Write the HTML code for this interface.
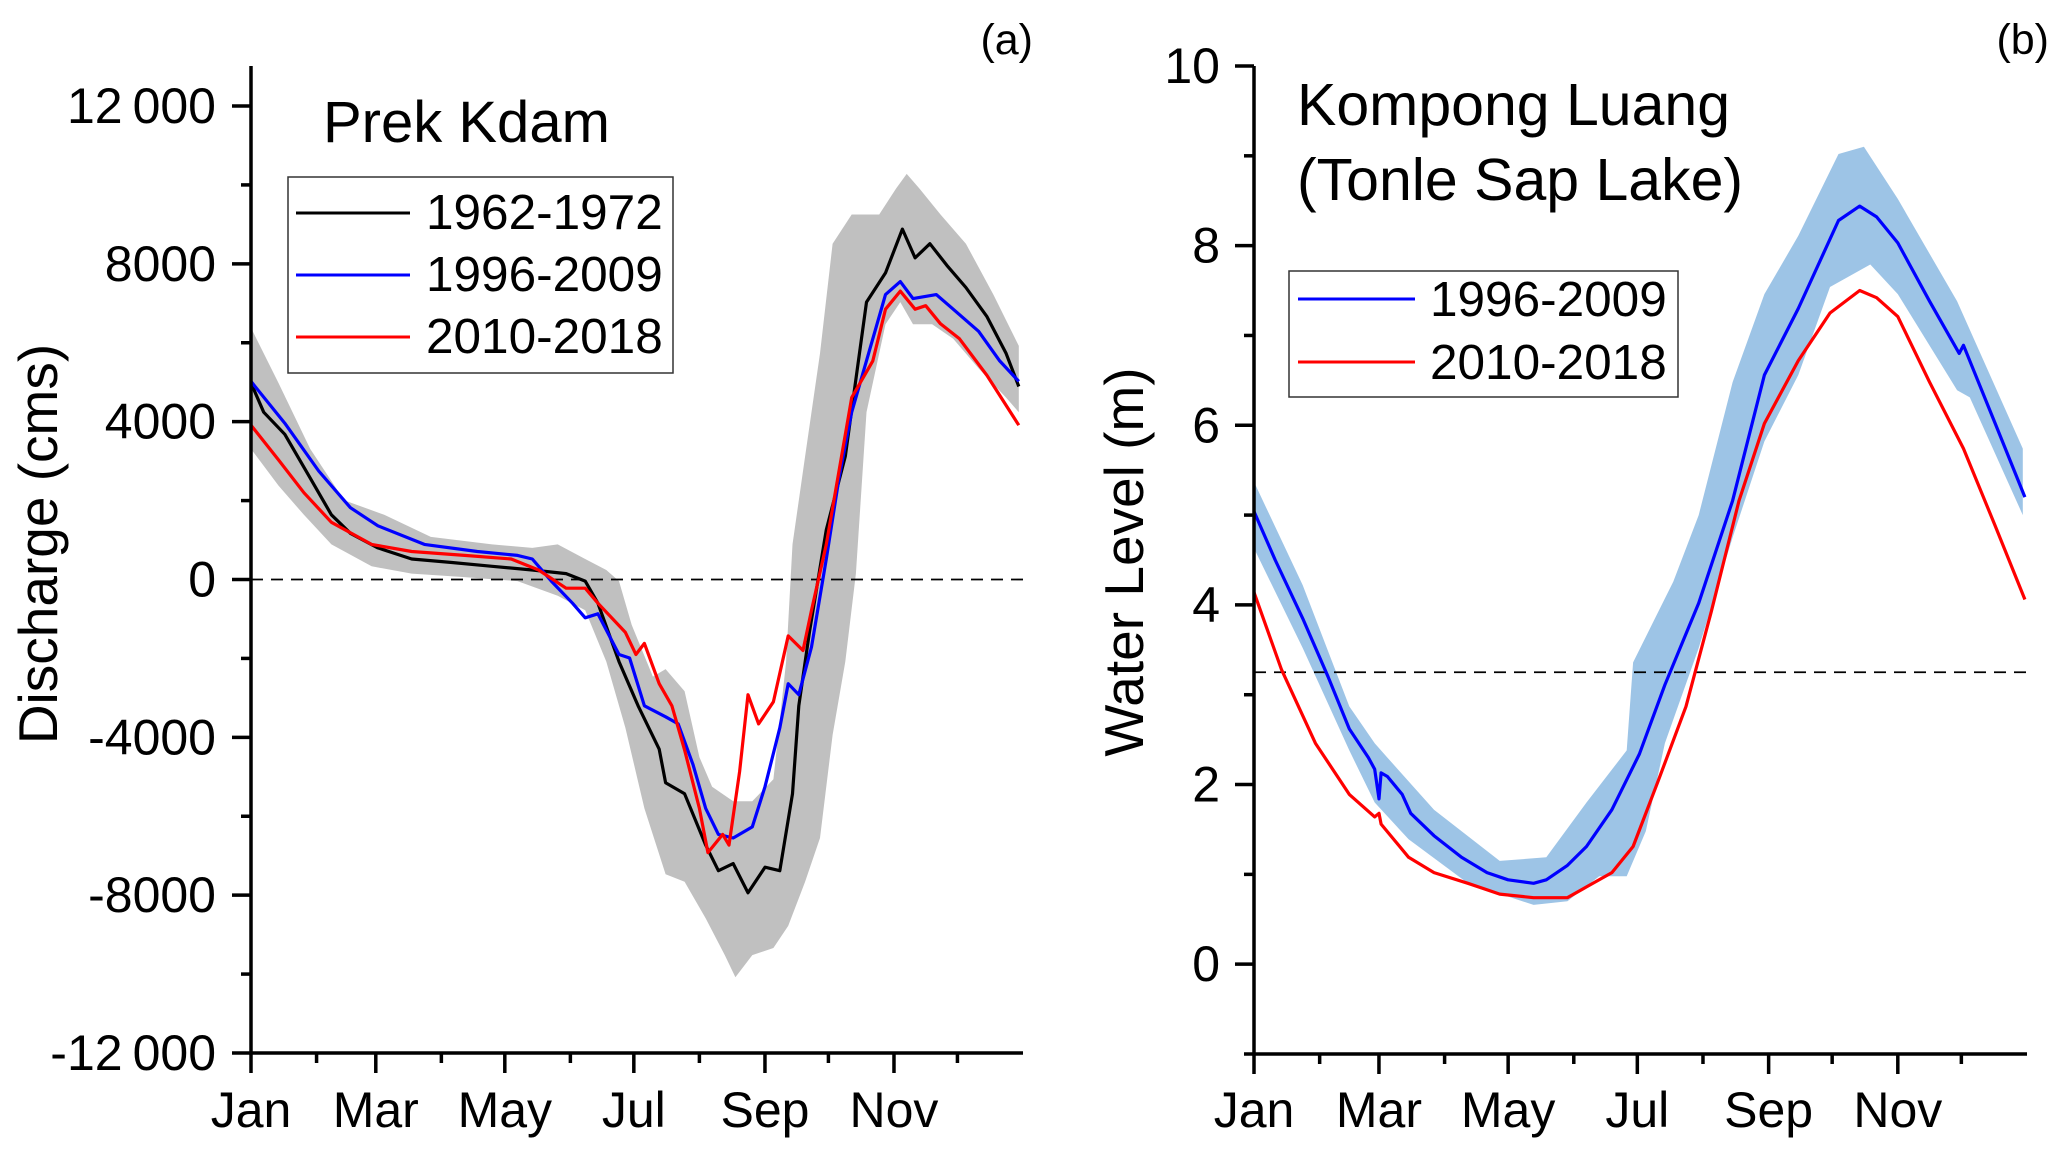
<!DOCTYPE html>
<html><head><meta charset="utf-8"><style>
html,body{margin:0;padding:0;background:#fff;}
svg{display:block;font-family:"Liberation Sans",Arial,sans-serif;}
</style></head><body>
<svg id="fig" width="2067" height="1154" viewBox="0 0 2067 1154" xmlns="http://www.w3.org/2000/svg">
<rect x="0" y="0" width="2067" height="1154" fill="#fff"/>
<g id="pa"></g>
<g id="pb"></g>
</svg>
<script>
// ---------- Panel (a) data: day-of-year and discharge (cms) ----------
const aBlackDays=[0,6,16,28,38,47,60,76,95,114,133,149,158,164,174,183,193,196,205,215,221,228,235,243,250,256,259,264,272,281,291,300,308,314,321,329,338,348,357,363];
const aBlackVals=[4980,4240,3680,2570,1640,1170,800,520,430,335,240,150,-40,-600,-2080,-3200,-4300,-5150,-5430,-6730,-7380,-7200,-7940,-7290,-7380,-5430,-3200,-1340,1260,3120,7030,7770,8880,8150,8510,7960,7400,6660,5730,4890];
const aBlueDays=[0,16,32,47,60,82,107,126,133,142,152,158,164,174,179,186,196,202,209,215,221,228,237,243,250,254,259,265,272,278,284,294,300,307,313,324,332,344,354,363];
const aBlueVals=[5020,3960,2750,1820,1360,890,710,610,520,-40,-600,-970,-870,-1900,-1990,-3200,-3480,-3660,-4690,-5800,-6460,-6550,-6270,-5250,-3760,-2640,-2920,-1710,520,2570,4240,6100,7220,7550,7120,7220,6850,6290,5540,5020];
const aRedDays=[0,13,25,38,57,76,101,123,136,149,158,164,177,182,186,193,199,205,212,216,223,226,231,235,240,247,254,261,265,272,278,284,294,300,307,314,319,326,335,348,363];
const aRedVals=[3910,3030,2200,1450,890,710,610,520,240,-220,-220,-600,-1340,-1900,-1620,-2640,-3200,-4320,-5800,-6920,-6460,-6730,-4870,-2920,-3660,-3100,-1430,-1800,-780,890,2750,4610,5540,6850,7310,6850,6940,6480,6100,5170,3910];
const aUpDays=[0,13,28,44,63,85,114,133,145,158,168,174,180,190,196,205,212,218,228,237,247,253,256,262,269,275,284,297,305,310,316,326,338,351,363];
const aUpVals=[6380,4980,3310,2010,1640,1080,890,800,890,520,240,-40,-1150,-2460,-2270,-2830,-4500,-5250,-5620,-5620,-5060,-2080,890,3120,5730,8510,9250,9250,9910,10280,9910,9250,8510,7220,5920];
const aLoDays=[0,13,25,38,57,76,101,126,145,158,168,177,186,196,205,215,224,229,237,247,254,262,269,275,281,286,291,300,307,313,322,332,344,357,363];
const aLoVals=[3310,2380,1640,890,335,150,60,-40,-410,-780,-2080,-3760,-5800,-7470,-7660,-8590,-9520,-10080,-9520,-9340,-8780,-7660,-6550,-3940,-2080,150,4240,6470,7030,6470,6470,6100,5350,4610,4240];
const aYTicks=[12000,8000,4000,0,-4000,-8000,-12000];
const aYTickLabels=["12\u2009000","8000","4000","0","-4000","-8000","-12\u2009000"];
// ---------- Panel (b) data: day-of-year and water level (m) ----------
const bBlueDays=[0,10,23,35,45,54,57,59,60,63,70,74,85,98,110,120,132,138,148,157,169,182,194,210,226,241,257,276,286,294,304,319,333,335,350,364];
const bBlueVals=[5.04,4.5,3.85,3.2,2.62,2.3,2.17,1.84,2.13,2.09,1.89,1.68,1.43,1.19,1.02,0.94,0.9,0.94,1.1,1.31,1.72,2.34,3.11,4.02,5.16,6.56,7.3,8.28,8.44,8.32,8.03,7.38,6.8,6.89,6.02,5.2];
const bRedDays=[0,13,29,45,57,59,60,73,85,101,116,132,144,148,157,169,179,191,204,216,229,241,257,272,286,294,304,319,335,350,364];
const bRedVals=[4.14,3.28,2.46,1.89,1.64,1.68,1.56,1.19,1.02,0.9,0.78,0.74,0.74,0.74,0.86,1.02,1.31,2.05,2.87,3.93,5.16,6.02,6.72,7.25,7.5,7.42,7.21,6.48,5.74,4.88,4.06];
const bUpDays=[0,23,45,57,63,85,116,138,157,176,179,198,210,226,241,257,276,288,304,332,363];
const bUpVals=[5.37,4.22,2.87,2.46,2.3,1.72,1.15,1.19,1.8,2.38,3.36,4.26,5.0,6.48,7.46,8.11,9.02,9.1,8.52,7.38,5.74];
const bLoDays=[0,23,45,57,73,101,132,148,163,176,185,194,210,226,241,257,272,291,304,332,338,363];
const bLoVals=[4.63,3.52,2.38,1.8,1.39,0.9,0.66,0.7,0.98,0.98,1.48,2.46,3.52,4.75,5.82,6.56,7.54,7.79,7.46,6.39,6.31,5.0];
const bYTicks=[0,2,4,6,8,10];
const bYTickLabels=["0","2","4","6","8","10"];
const monthStarts=[0,31,59,90,120,151,181,212,243,273,304,334];
const monthLabels=["Jan","Feb","Mar","Apr","May","Jun","Jul","Aug","Sep","Oct","Nov","Dec"];

const NS="http://www.w3.org/2000/svg";
function mk(parent,tag,attrs,text){const e=document.createElementNS(NS,tag);for(const k in attrs)e.setAttribute(k,attrs[k]);if(text!==undefined)e.textContent=text;parent.appendChild(e);return e;}

function drawPanel(g,cfg){
  const X=d=>cfg.x0+(d/365)*(cfg.x1-cfg.x0);
  const Y=v=>cfg.yB+(v-cfg.vMin)/(cfg.vMax-cfg.vMin)*(cfg.yT-cfg.yB);
  let dpath="M"+cfg.upD.map((d,i)=>X(d).toFixed(1)+","+Y(cfg.upV[i]).toFixed(1)).join("L");
  for(let i=cfg.loD.length-1;i>=0;i--) dpath+="L"+X(cfg.loD[i]).toFixed(1)+","+Y(cfg.loV[i]).toFixed(1);
  const band=mk(g,"path",{d:dpath+"Z",fill:cfg.bandColor,stroke:"none"});
  
  
  const ref=mk(g,"line",{x1:cfg.x0,x2:cfg.x1,y1:Y(cfg.refVal),y2:Y(cfg.refVal),stroke:"#000","stroke-width":1.8,"stroke-dasharray":"12,8"});
  
  
  cfg.series.forEach(s=>{
    const p=mk(g,"polyline",{points:s.d.map((d,i)=>X(d).toFixed(1)+","+Y(s.v[i]).toFixed(1)).join(" "),fill:"none",stroke:s.c,"stroke-width":3.2,"stroke-linejoin":"round"});
    
    
  });
  const ax=mk(g,"path",{d:`M${cfg.x0},${cfg.yT}V${cfg.yB}H${cfg.x1}`,fill:"none",stroke:"#000","stroke-width":3.5});
  
  
  for(let v=cfg.vTickMin;v<=cfg.vTickMax+1e-9;v+=cfg.minorStep){
    const major=cfg.yTicks.some(t=>Math.abs(t-v)<1e-6);
    const len=major?19:10;
    mk(g,"line",{x1:cfg.x0-len,x2:cfg.x0,y1:Y(v),y2:Y(v),stroke:"#000","stroke-width":3.5});
  }
  cfg.yTicks.forEach((t,i)=>{
    const tl=mk(g,"text",{x:cfg.labelRight,y:Y(t)+17,"text-anchor":"end","font-size":50},cfg.yLabels[i]);
    
    
  });
  monthStarts.forEach((d,i)=>{
    const major=i%2===0;
    mk(g,"line",{x1:X(d),x2:X(d),y1:cfg.yB,y2:cfg.yB+(major?20:10),stroke:"#000","stroke-width":3.5});
    if(major){
      const xl=mk(g,"text",{x:X(d),y:1127,"text-anchor":"middle","font-size":50},monthLabels[i]);
      
      
    }
  });
  const yt=mk(g,"text",{x:0,y:0,"text-anchor":"middle","font-size":55,transform:`translate(${cfg.titleX},${cfg.titleY}) rotate(-90)`},cfg.yTitle);
  
  
}

(function(){
  const pa=document.getElementById('pa');
  const per=(1053-106)/24000;
  const vTop=-12000+(1053-66)/per;
  drawPanel(pa,{x0:251,x1:1023,yT:66,yB:1053,vMin:-12000,vMax:vTop,
    upD:aUpDays,upV:aUpVals,loD:aLoDays,loV:aLoVals,bandColor:"#c0c0c0",refVal:0,
    series:[{d:aBlackDays,v:aBlackVals,c:"#000",name:"line-1962-1972"},{d:aBlueDays,v:aBlueVals,c:"#0000ff",name:"line-1996-2009"},{d:aRedDays,v:aRedVals,c:"#ff0000",name:"line-2010-2018"}],
    yTicks:aYTicks,yLabels:aYTickLabels,vTickMin:-12000,vTickMax:12000,minorStep:2000,labelRight:216,
    yTitle:"Discharge (cms)",titleX:57,titleY:544});
  const pb=document.getElementById('pb');
  drawPanel(pb,{x0:1254,x1:2027,yT:66,yB:1054,vMin:-1,vMax:10,
    upD:bUpDays,upV:bUpVals,loD:bLoDays,loV:bLoVals,bandColor:"#9dc4e6",refVal:3.25,
    series:[{d:bBlueDays,v:bBlueVals,c:"#0000ff",name:"line-1996-2009"},{d:bRedDays,v:bRedVals,c:"#ff0000",name:"line-2010-2018"}],
    yTicks:bYTicks,yLabels:bYTickLabels,vTickMin:-1,vTickMax:10,minorStep:1,labelRight:1220,
    yTitle:"Water Level (m)",titleX:1143,titleY:562});

  let t;
  t=mk(pa,"text",{x:1033,y:54,"text-anchor":"end","font-size":43},"(a)");
  
  
  t=mk(pb,"text",{x:2049,y:54,"text-anchor":"end","font-size":43},"(b)");
  
  
  t=mk(pa,"text",{x:323,y:142,"font-size":58},"Prek Kdam");
  
  
  t=mk(pb,"text",{x:1297,y:125,"font-size":59},"Kompong Luang");
  
  
  t=mk(pb,"text",{x:1297,y:200,"font-size":59},"(Tonle Sap Lake)");
  
  

  const legA=mk(pa,"g",{});
  
  
  mk(legA,"rect",{x:288,y:177,width:385,height:196,fill:"#fff",stroke:"#333","stroke-width":1.5});
  const la=[["1962-1972","#000",213],["1996-2009","#0000ff",275],["2010-2018","#ff0000",337]];
  la.forEach(e=>{
    const en=mk(legA,"g",{});
    
    
    mk(en,"line",{x1:296,x2:410,y1:e[2],y2:e[2],stroke:e[1],"stroke-width":3});
    mk(en,"text",{x:426,y:e[2]+16,"font-size":49.5},e[0]);
  });
  const legB=mk(pb,"g",{});
  
  
  mk(legB,"rect",{x:1289,y:271,width:389,height:126,fill:"#fff",stroke:"#333","stroke-width":1.5});
  const lb=[["1996-2009","#0000ff",299],["2010-2018","#ff0000",362]];
  lb.forEach(e=>{
    const en=mk(legB,"g",{});
    
    
    mk(en,"line",{x1:1298,x2:1415,y1:e[2],y2:e[2],stroke:e[1],"stroke-width":3});
    mk(en,"text",{x:1430,y:e[2]+17,"font-size":49.5},e[0]);
  });
})();
</script>
</body></html>
